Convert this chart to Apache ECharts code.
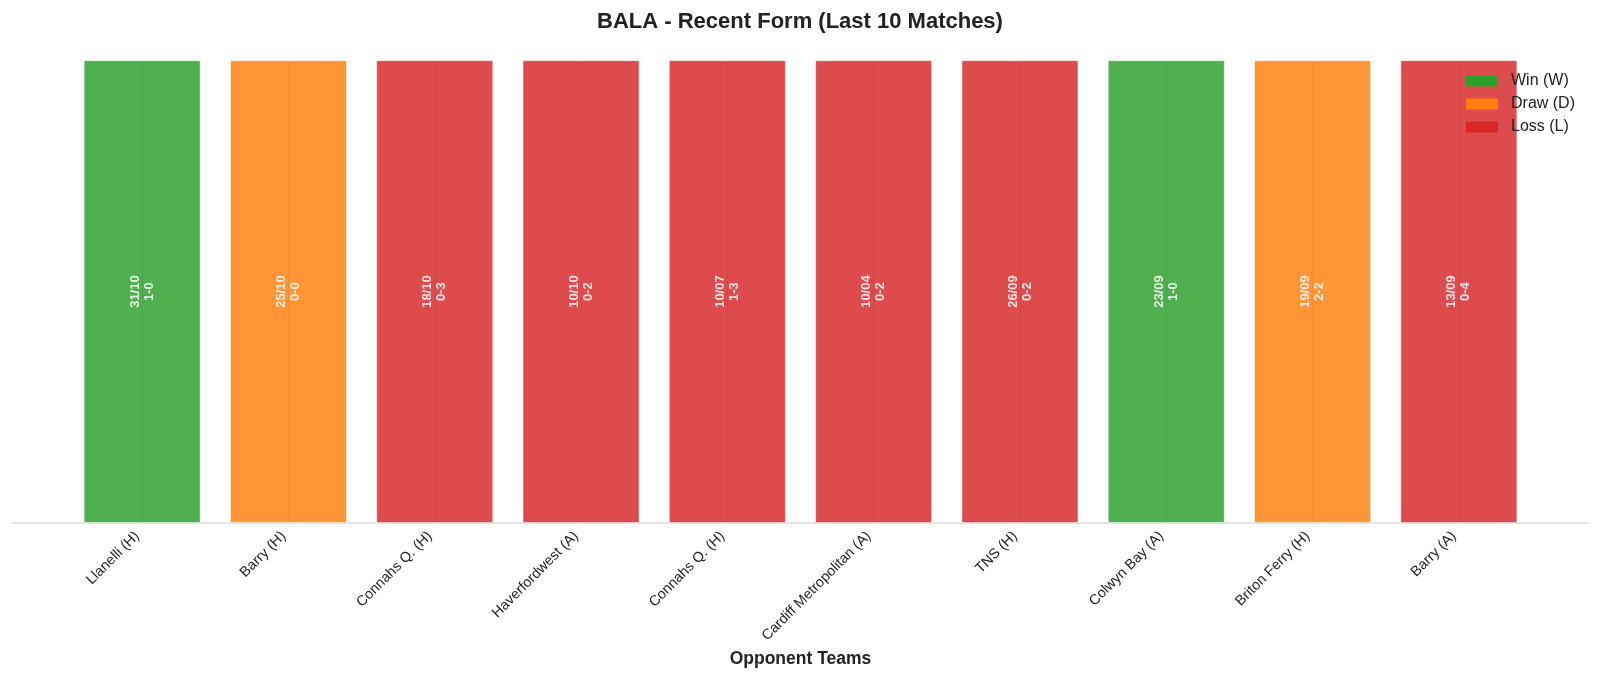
<!DOCTYPE html>
<html>
<head>
<meta charset="utf-8">
<title>BALA - Recent Form</title>
<style>
  html, body { margin: 0; padding: 0; background: #ffffff; }
  #main { width: 1600px; height: 678px; }
</style>
</head>
<body>
<div id="main"></div>
<script src="https://cdn.jsdelivr.net/npm/echarts@6/dist/echarts.min.js"></script>
<script>
// data
var opponents = ['Llanelli (H)', 'Barry (H)', 'Connahs Q. (H)', 'Haverfordwest (A)', 'Connahs Q. (H)',
    'Cardiff Metropolitan (A)', 'TNS (H)', 'Colwyn Bay (A)', 'Briton Ferry (H)', 'Barry (A)'];
var dates = ['31/10', '25/10', '18/10', '10/10', '10/07', '10/04', '26/09', '23/09', '19/09', '13/09'];
var scores = ['1-0', '0-0', '0-3', '0-2', '1-3', '0-2', '0-2', '1-0', '2-2', '0-4'];
var results = ['W', 'D', 'L', 'L', 'L', 'L', 'L', 'W', 'D', 'L'];

var outcomes = [
    { code: 'W', name: 'Win (W)', color: '#2ca02c' },
    { code: 'D', name: 'Draw (D)', color: '#ff7f0e' },
    { code: 'L', name: 'Loss (L)', color: '#d62728' }
];

var font = 'Liberation Sans, Arial, sans-serif';
var myChart = echarts.init(document.getElementById('main'));

var series = outcomes.map(function(o) {
    return {
        name: o.name,
        type: 'bar',
        stack: 'form',
        xAxisIndex: 1,
        yAxisIndex: 1,
        barWidth: '80%',
        z: 2,
        data: results.map(function(r) { return r === o.code ? 1 : '-'; }),
        itemStyle: {
            color: o.color,
            opacity: 0.83,
            borderColor: 'rgba(255,255,255,0.6)',
            borderWidth: 1
        },
        label: {
            show: true,
            position: 'inside',
            rotate: 90,
            color: '#ffffff',
            fontFamily: font,
            fontWeight: 'bold',
            fontSize: 13,
            lineHeight: 14,
            formatter: function(p) {
                return dates[p.dataIndex] + '\n' + scores[p.dataIndex];
            }
        }
    };
});

// faint centre grid lines seen through the bars
series.push({
    type: 'line',
    xAxisIndex: 1,
    yAxisIndex: 1,
    data: [],
    z: 3,
    silent: true,
    markLine: {
        symbol: 'none',
        silent: true,
        label: { show: false },
        lineStyle: { color: 'rgba(0,0,0,0.05)', type: 'solid', width: 1 },
        data: opponents.map(function(n, i) {
            return [{ coord: [i, 0] }, { coord: [i, 1] }];
        })
    }
});

var option = {
    backgroundColor: '#ffffff',
    animation: false,
    title: {
        text: 'BALA - Recent Form (Last 10 Matches)',
        left: 'center',
        top: 6,
        textStyle: { fontFamily: font, fontSize: 22, fontWeight: 'bold', color: '#222222' }
    },
    legend: {
        orient: 'vertical',
        left: 1461,
        top: 68,
        itemWidth: 32,
        itemHeight: 11,
        itemGap: 7,
        icon: 'rect',
        data: outcomes.map(function(o) {
            return { name: o.name, itemStyle: { color: o.color, opacity: 1, borderWidth: 0 } };
        }),
        textStyle: { fontFamily: font, fontSize: 16, lineHeight: 16, color: '#222222', padding: [0, 0, 0, 8] }
    },
    grid: [
        { left: 12, right: 11, top: 37, bottom: 155 },
        { left: 69, right: 68, top: 37, bottom: 155 }
    ],
    xAxis: [{
        type: 'value',
        gridIndex: 0,
        min: 0,
        max: 1,
        axisLine: { show: true, lineStyle: { color: '#dddddd', width: 1.5 } },
        axisTick: { show: false },
        axisLabel: { show: false },
        splitLine: { show: false }
    }, {
        type: 'category',
        gridIndex: 1,
        data: opponents,
        name: 'Opponent Teams',
        nameLocation: 'middle',
        nameGap: 122,
        nameTextStyle: { fontFamily: font, fontSize: 17.5, fontWeight: 'bold', color: '#222222' },
        axisLine: { show: false },
        axisTick: { show: false },
        axisLabel: {
            rotate: 45,
            interval: 0,
            margin: 6,
            padding: [0, 7, 0, 0],
            fontFamily: font,
            fontSize: 14.3,
            color: '#222222'
        }
    }],
    yAxis: [{
        type: 'value',
        gridIndex: 0,
        min: 0,
        max: 1.05,
        show: false
    }, {
        type: 'value',
        gridIndex: 1,
        min: 0,
        max: 1.05,
        show: false
    }],
    series: series
};

myChart.setOption(option);
</script>
</body>
</html>
